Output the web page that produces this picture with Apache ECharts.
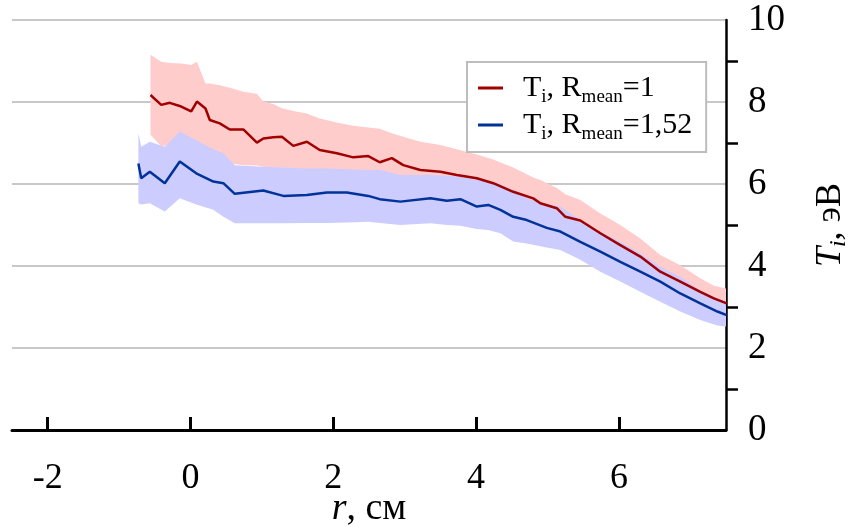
<!DOCTYPE html>
<html>
<head>
<meta charset="utf-8">
<script src="https://cdn.jsdelivr.net/npm/echarts@6/dist/echarts.min.js"></script>
<style>
  html, body { margin: 0; padding: 0; background: #fff; }
  #chart { width: 849px; height: 526px; }
</style>
</head>
<body>
<div id="chart"></div>
<script>
// x ticks / labels
const xTicks = [-2, 0, 2, 4, 6];

// R_mean = 1 (red)
const redX = [-0.56, -0.41, -0.29, -0.13, 0.01, 0.09, 0.21, 0.27, 0.41, 0.55, 0.74, 0.93, 1.02, 1.16, 1.28, 1.44, 1.63, 1.81, 2.05, 2.28, 2.49, 2.65, 2.82, 2.98, 3.22, 3.50, 3.73, 4.01, 4.24, 4.52, 4.80, 4.90, 5.13, 5.25, 5.46, 5.74, 6.02, 6.30, 6.58, 6.86, 7.14, 7.33, 7.51];
const redMean = [8.17, 7.93, 7.98, 7.89, 7.77, 8.01, 7.84, 7.56, 7.48, 7.33, 7.33, 7.01, 7.11, 7.14, 7.15, 6.93, 7.03, 6.83, 6.75, 6.65, 6.68, 6.53, 6.63, 6.46, 6.34, 6.30, 6.22, 6.14, 6.02, 5.81, 5.65, 5.53, 5.41, 5.20, 5.11, 4.80, 4.51, 4.23, 3.86, 3.62, 3.37, 3.21, 3.09];
const redUpper = [9.15, 8.98, 8.95, 8.94, 8.90, 8.98, 8.45, 8.45, 8.41, 8.35, 8.25, 8.20, 8.01, 7.95, 7.85, 7.78, 7.72, 7.60, 7.50, 7.42, 7.38, 7.35, 7.24, 7.15, 7.03, 6.95, 6.85, 6.72, 6.60, 6.40, 6.16, 6.10, 5.90, 5.75, 5.61, 5.28, 5.00, 4.67, 4.27, 4.02, 3.70, 3.52, 3.45];
const redLower = [7.20, 6.92, 6.95, 7.00, 6.90, 6.90, 6.75, 6.70, 6.67, 6.50, 6.46, 6.45, 6.42, 6.40, 6.38, 6.37, 6.36, 6.35, 6.34, 6.33, 6.32, 6.28, 6.20, 6.15, 6.12, 6.10, 6.05, 5.95, 5.90, 5.70, 5.50, 5.40, 5.30, 5.15, 5.00, 4.70, 4.45, 4.15, 3.85, 3.60, 3.30, 3.12, 3.05];

// R_mean = 1,52 (blue)
const blueX = [-0.73, -0.69, -0.57, -0.36, -0.15, 0.08, 0.32, 0.46, 0.62, 1.02, 1.30, 1.63, 1.91, 2.19, 2.49, 2.65, 2.94, 3.36, 3.59, 3.78, 4.01, 4.17, 4.34, 4.52, 4.71, 4.99, 5.18, 5.46, 5.74, 6.02, 6.30, 6.58, 6.86, 7.14, 7.38, 7.51];
const blueMean = [6.50, 6.14, 6.30, 6.02, 6.55, 6.26, 6.06, 6.02, 5.76, 5.84, 5.71, 5.73, 5.79, 5.79, 5.71, 5.63, 5.57, 5.65, 5.59, 5.63, 5.45, 5.49, 5.37, 5.20, 5.12, 4.93, 4.84, 4.59, 4.35, 4.10, 3.86, 3.62, 3.33, 3.09, 2.89, 2.80];
const blueUpper = [7.24, 6.91, 7.03, 6.91, 7.28, 7.07, 6.85, 6.75, 6.46, 6.42, 6.40, 6.38, 6.38, 6.36, 6.34, 6.35, 6.22, 6.22, 6.20, 6.18, 6.10, 6.06, 6.00, 5.85, 5.65, 5.50, 5.45, 5.12, 4.84, 4.59, 4.31, 3.98, 3.74, 3.41, 3.20, 3.13];
const blueLower = [5.53, 5.50, 5.53, 5.33, 5.65, 5.50, 5.37, 5.20, 5.04, 5.04, 5.04, 5.05, 5.05, 5.06, 5.08, 5.05, 5.00, 5.04, 5.00, 4.98, 4.90, 4.88, 4.80, 4.60, 4.55, 4.45, 4.39, 4.15, 3.86, 3.62, 3.37, 3.13, 2.89, 2.68, 2.55, 2.52];

const FONT = 'Liberation Serif, Times New Roman, serif';
const RED = '#a00000';
const BLUE = '#003399';

const pairs = (xs, ys) => xs.map((x, i) => [x, ys[i]]);

const chart = echarts.init(document.getElementById('chart'), null, { renderer: 'canvas' });

// shaded band between lower and upper, drawn as one polygon through the axes
const bandSeries = (name, xs, lo, up, color) => ({
  name: name, type: 'custom', silent: true, z: 1, clip: true,
  data: [[xs[0], up[0]]],
  renderItem: (params, api) => {
    const top = xs.map((x, i) => api.coord([x, up[i]]));
    const bot = xs.map((x, i) => api.coord([x, lo[i]])).reverse();
    return {
      type: 'polygon',
      shape: { points: top.concat(bot) },
      style: { fill: color, stroke: null }
    };
  }
});

chart.setOption({
  animation: false,
  grid: { left: 12, right: 123, top: 20, bottom: 96, outerBoundsMode: 'none', containLabel: false },
  legend: {
    left: 467, top: 62, orient: 'vertical',
    backgroundColor: '#fff', borderColor: '#bdbdbd', borderWidth: 2,
    padding: [11, 14, 8, 11], itemGap: 3,
    itemWidth: 25, itemHeight: 3, icon: 'rect',
    data: ['R1', 'R152'],
    formatter: (n) => n === 'R1'
      ? '{m|  T}{s|i}{m|, R}{s|mean}{m|=1}'
      : '{m|  T}{s|i}{m|, R}{s|mean}{m|=1,52}',
    textStyle: {
      fontFamily: FONT, fontSize: 30, color: '#000',
      rich: {
        m: { fontFamily: FONT, fontSize: 30, color: '#000', lineHeight: 38 },
        s: { fontFamily: FONT, fontSize: 19, color: '#000', verticalAlign: 'bottom', lineHeight: 12 }
      }
    }
  },
  xAxis: {
    type: 'value', min: -2.5, max: 7.5,
    name: '{it|r}{n|, см}', nameLocation: 'middle', nameGap: 60, nameMoveOverlap: false,
    nameTextStyle: {
      rich: {
        it: { fontFamily: FONT, fontSize: 38, fontStyle: 'italic', color: '#000' },
        n: { fontFamily: FONT, fontSize: 38, color: '#000' }
      }
    },
    axisLine: { onZero: false, lineStyle: { color: '#000', width: 3 } },
    axisTick: { inside: true, length: 13, lineStyle: { color: '#000', width: 3 }, customValues: xTicks },
    axisLabel: { fontFamily: FONT, fontSize: 36, color: '#000', margin: 31, customValues: xTicks },
    splitLine: { show: false }
  },
  yAxis: {
    type: 'value', position: 'right', min: 0, max: 10, interval: 2,
    name: '{it|T}{sub|i}{n|, эВ}', nameLocation: 'middle', nameGap: 85, nameRotate: 90, nameMoveOverlap: false,
    nameTextStyle: {
      rich: {
        it: { fontFamily: FONT, fontSize: 36, fontStyle: 'italic', color: '#000', lineHeight: 40 },
        sub: { fontFamily: FONT, fontSize: 24, fontStyle: 'italic', color: '#000', verticalAlign: 'bottom', lineHeight: 14 },
        n: { fontFamily: FONT, fontSize: 36, color: '#000', lineHeight: 40 }
      }
    },
    axisLine: { show: true, onZero: false, lineStyle: { color: '#000', width: 2.5 } },
    axisTick: { show: false },
    minorTick: { show: true, splitNumber: 2, length: 12, lineStyle: { color: '#000', width: 2.5 } },
    axisLabel: { fontFamily: FONT, fontSize: 37, color: '#000', margin: 22 },
    splitLine: { show: true, lineStyle: { color: '#c8c8c8', width: 2 } }
  },
  series: [
    bandSeries('redBand', redX, redLower, redUpper, '#ffcccc'),
    bandSeries('blueBand', blueX, blueLower, blueUpper, '#ccccff'),
    {
      name: 'R1', type: 'line', data: pairs(redX, redMean), symbol: 'none',
      lineStyle: { color: RED, width: 2.5 }, itemStyle: { color: RED }, z: 3
    },
    {
      name: 'R152', type: 'line', data: pairs(blueX, blueMean), symbol: 'none',
      lineStyle: { color: BLUE, width: 2.5 }, itemStyle: { color: BLUE }, z: 3
    }
  ]
});
</script>
</body>
</html>
